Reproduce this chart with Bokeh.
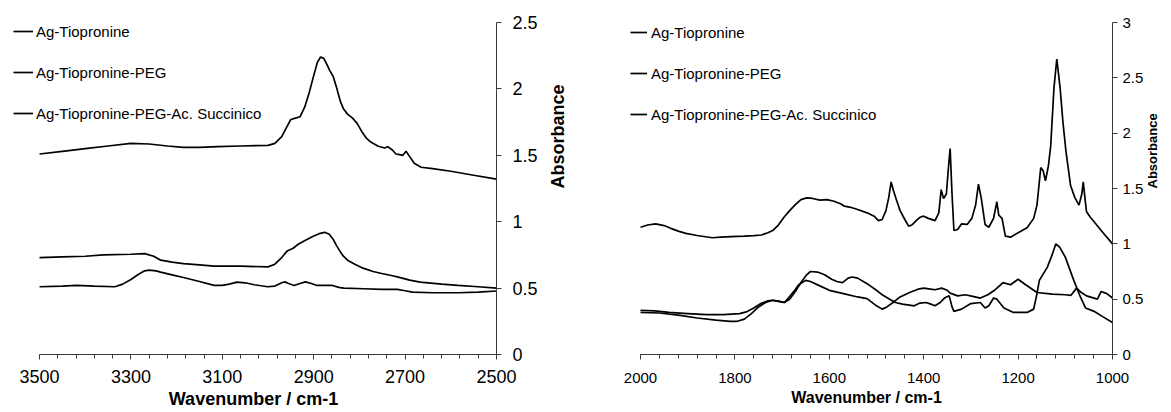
import math
from bokeh.plotting import figure
from bokeh.models import Range1d, FixedTicker, NumeralTickFormatter, Legend, LegendItem
from bokeh.layouts import row
from bokeh.embed import file_html
from bokeh.resources import INLINE

FONT = "Liberation Sans"

series_labels = ["Ag-Tiopronine", "Ag-Tiopronine-PEG", "Ag-Tiopronine-PEG-Ac. Succinico"]

# ---------------- Left panel: 3500-2500 cm-1 ----------------
left_tiop_wn = [3500, 3450, 3419, 3380, 3335, 3318, 3300, 3285, 3270, 3260, 3245, 3235, 3210, 3185, 3150,
                3118, 3100, 3085, 3068, 3050, 3030, 3001, 2985, 2970, 2963, 2955, 2943, 2930, 2918, 2905,
                2893, 2870, 2859, 2845, 2834, 2790, 2751, 2717, 2700, 2684, 2640, 2584, 2540, 2500]
left_tiop_abs = [0.51, 0.515, 0.52, 0.515, 0.51, 0.53, 0.565, 0.60, 0.63, 0.636, 0.63, 0.62, 0.60, 0.58, 0.55,
                 0.52, 0.52, 0.53, 0.545, 0.54, 0.525, 0.51, 0.515, 0.54, 0.547, 0.535, 0.52, 0.535, 0.547, 0.535,
                 0.52, 0.52, 0.52, 0.505, 0.50, 0.495, 0.49, 0.49, 0.48, 0.47, 0.465, 0.465, 0.47, 0.478]

left_peg_wn = [3500, 3450, 3400, 3350, 3300, 3260, 3220, 3185, 3150, 3110, 3060, 3000, 2985, 2970, 2958,
               2950, 2940, 2930, 2920, 2910, 2900, 2892, 2885, 2878, 2872, 2865, 2857, 2850, 2842, 2835,
               2826, 2815, 2805, 2795, 2785, 2775, 2760, 2745, 2738, 2728, 2720, 2712, 2705, 2698, 2690,
               2680, 2665, 2640, 2600, 2550, 2500]
left_peg_abs = [1.51, 1.53, 1.55, 1.57, 1.59, 1.585, 1.57, 1.56, 1.56, 1.565, 1.57, 1.575, 1.59, 1.64, 1.72,
                1.77, 1.78, 1.79, 1.86, 1.97, 2.10, 2.20, 2.24, 2.23, 2.19, 2.14, 2.09, 2.01, 1.91, 1.85,
                1.81, 1.78, 1.74, 1.68, 1.63, 1.60, 1.57, 1.555, 1.565, 1.54, 1.51, 1.505, 1.50, 1.53, 1.49,
                1.44, 1.41, 1.40, 1.38, 1.35, 1.32]

left_succ_wn = [3500, 3450, 3400, 3360, 3300, 3270, 3250, 3235, 3210, 3185, 3150, 3118, 3060, 3000, 2985,
                2970, 2958, 2945, 2934, 2918, 2901, 2888, 2876, 2866, 2858, 2850, 2843, 2835, 2826, 2810,
                2792, 2770, 2751, 2730, 2717, 2690, 2667, 2620, 2584, 2540, 2500]
left_succ_abs = [0.73, 0.735, 0.74, 0.75, 0.755, 0.76, 0.74, 0.71, 0.695, 0.685, 0.675, 0.665, 0.665, 0.66, 0.68,
                 0.73, 0.78, 0.80, 0.83, 0.86, 0.89, 0.91, 0.92, 0.905, 0.87, 0.82, 0.78, 0.74, 0.71, 0.68,
                 0.65, 0.625, 0.61, 0.595, 0.585, 0.56, 0.545, 0.53, 0.52, 0.51, 0.50]

left_xticks = [2500, 2700, 2900, 3100, 3300, 3500]
left_yticks = [0, 0.5, 1, 1.5, 2, 2.5]

# ---------------- Right panel: 2000-1000 cm-1 ----------------
right_tiop_wn = [2000, 1960, 1920, 1880, 1840, 1810, 1795, 1780, 1765, 1750, 1735, 1720, 1705, 1695, 1685,
                 1675, 1665, 1650, 1640, 1620, 1600, 1570, 1540, 1520, 1500, 1488, 1478, 1465, 1450, 1430,
                 1412, 1400, 1385, 1376, 1362, 1350, 1344, 1328, 1312, 1296, 1280, 1264, 1250, 1232, 1216,
                 1200, 1184, 1160, 1128, 1100, 1088, 1076, 1066, 1055, 1032, 1024, 1012, 1000]
right_tiop_abs = [0.38, 0.375, 0.355, 0.33, 0.31, 0.30, 0.30, 0.32, 0.37, 0.43, 0.47, 0.49, 0.48, 0.47, 0.52,
                  0.57, 0.63, 0.67, 0.66, 0.62, 0.58, 0.55, 0.52, 0.505, 0.44, 0.41, 0.43, 0.47, 0.52, 0.56,
                  0.59, 0.60, 0.59, 0.585, 0.60, 0.58, 0.555, 0.53, 0.54, 0.525, 0.51, 0.54, 0.58, 0.65, 0.63,
                  0.68, 0.63, 0.56, 0.545, 0.54, 0.535, 0.60, 0.56, 0.53, 0.50, 0.57, 0.55, 0.51]

right_peg_wn = [2000, 1985, 1968, 1950, 1936, 1920, 1904, 1880, 1848, 1830, 1808, 1780, 1760, 1744, 1730,
                1720, 1708, 1696, 1684, 1672, 1660, 1648, 1635, 1620, 1605, 1590, 1575, 1568, 1555, 1540,
                1520, 1505, 1496, 1488, 1480, 1474, 1469, 1464, 1458, 1450, 1440, 1432, 1425, 1416, 1408,
                1400, 1390, 1376, 1368, 1363, 1358, 1352, 1347, 1344, 1340, 1336, 1328, 1320, 1308, 1298,
                1290, 1284, 1278, 1270, 1262, 1252, 1245, 1241, 1234, 1227, 1216, 1200, 1181, 1167, 1160,
                1152, 1147, 1142, 1136, 1131, 1124, 1118, 1111, 1105, 1099, 1089, 1080, 1071, 1065, 1062,
                1058, 1055, 1047, 1039, 1020, 1000]
right_peg_abs = [1.15, 1.17, 1.18, 1.165, 1.14, 1.115, 1.095, 1.075, 1.055, 1.06, 1.065, 1.07, 1.075, 1.08, 1.10,
                 1.12, 1.17, 1.24, 1.30, 1.355, 1.40, 1.415, 1.41, 1.395, 1.40, 1.385, 1.36, 1.34, 1.33, 1.31,
                 1.28, 1.25, 1.21, 1.22, 1.30, 1.42, 1.56, 1.48, 1.40, 1.30, 1.22, 1.16, 1.17, 1.21, 1.24,
                 1.25, 1.23, 1.21, 1.28, 1.49, 1.41, 1.45, 1.72, 1.86, 1.45, 1.12, 1.13, 1.18, 1.175, 1.23,
                 1.35, 1.54, 1.41, 1.175, 1.15, 1.23, 1.38, 1.26, 1.23, 1.07, 1.06, 1.10, 1.145, 1.23, 1.35,
                 1.69, 1.66, 1.57, 1.70, 1.88, 2.41, 2.67, 2.41, 2.10, 1.85, 1.53, 1.42, 1.35, 1.45, 1.56,
                 1.40, 1.29, 1.24, 1.20, 1.10, 1.00]

right_succ_wn = [2000, 1970, 1940, 1900, 1860, 1824, 1790, 1776, 1760, 1745, 1730, 1720, 1708, 1696, 1684,
                 1672, 1660, 1648, 1640, 1625, 1610, 1595, 1584, 1572, 1560, 1552, 1540, 1520, 1500, 1488,
                 1472, 1460, 1445, 1420, 1408, 1395, 1385, 1376, 1365, 1356, 1346, 1340, 1336, 1320, 1300,
                 1280, 1270, 1262, 1252, 1245, 1230, 1210, 1181, 1167, 1160, 1155, 1138, 1128, 1120, 1112,
                 1100, 1082, 1068, 1057, 1039, 1020, 1000]
right_succ_abs = [0.40, 0.395, 0.38, 0.37, 0.36, 0.36, 0.37, 0.385, 0.42, 0.46, 0.485, 0.49, 0.48, 0.47, 0.50,
                  0.57, 0.65, 0.72, 0.75, 0.745, 0.72, 0.68, 0.66, 0.65, 0.69, 0.70, 0.69, 0.64, 0.58, 0.54,
                  0.50, 0.47, 0.455, 0.44, 0.465, 0.47, 0.455, 0.44, 0.47, 0.51, 0.53, 0.43, 0.39, 0.41, 0.46,
                  0.47, 0.42, 0.44, 0.51, 0.50, 0.42, 0.38, 0.38, 0.41, 0.55, 0.67, 0.79, 0.90, 1.00, 0.97,
                  0.88, 0.67, 0.52, 0.42, 0.39, 0.34, 0.29]

right_xticks = [1000, 1200, 1400, 1600, 1800, 2000]
right_yticks = [0, 0.5, 1, 1.5, 2, 2.5, 3]


def make_panel(width, height, xr, yr, xbounds, xticks, yticks, borders,
               tick_fs, title_fs, ytitle_fs, series, legend_cfg, axis_cfg):
    p = figure(width=width, height=height, x_range=Range1d(*xr), y_range=Range1d(*yr),
               y_axis_location="right", toolbar_location=None, output_backend="svg",
               min_border_left=borders[0], min_border_right=borders[1],
               min_border_top=borders[2], min_border_bottom=borders[3])
    p.outline_line_color = None
    p.xgrid.visible = False
    p.ygrid.visible = False
    p.background_fill_color = "white"
    p.border_fill_color = "white"

    minors = list(range(int(xbounds[0]), int(xbounds[1]) + 1, 40))
    xa = p.xaxis[0]
    xa.ticker = FixedTicker(ticks=xticks, minor_ticks=minors)
    xa.bounds = xbounds
    xa.axis_label = "Wavenumber / cm-1"
    xa.axis_label_text_font = FONT
    xa.axis_label_text_font_style = "bold"
    xa.axis_label_text_font_size = title_fs
    xa.axis_label_text_color = "black"
    xa.axis_label_standoff = axis_cfg["xtitle_standoff"]
    xa.major_label_text_font = FONT
    xa.major_label_text_font_size = tick_fs
    xa.major_label_text_color = "black"
    xa.major_label_standoff = axis_cfg["xlabel_standoff"]

    ya = p.yaxis[0]
    ya.ticker = FixedTicker(ticks=yticks, minor_ticks=[])
    ya.formatter = NumeralTickFormatter(format="0.[0]")
    ya.axis_label = "Absorbance"
    ya.axis_label_orientation = math.pi / 2
    ya.axis_label_text_font = FONT
    ya.axis_label_text_font_style = "bold"
    ya.axis_label_text_font_size = ytitle_fs
    ya.axis_label_text_color = "black"
    ya.axis_label_standoff = axis_cfg["ytitle_standoff"]
    ya.major_label_text_font = FONT
    ya.major_label_text_font_size = tick_fs
    ya.major_label_text_color = "black"
    ya.major_label_standoff = axis_cfg["ylabel_standoff"]

    for ax in (xa, ya):
        ax.axis_line_color = "#3a3a3a"
        ax.axis_line_width = 1
        ax.major_tick_line_color = "#3a3a3a"
        ax.minor_tick_line_color = "#3a3a3a"
        ax.major_tick_in = 0
        ax.minor_tick_in = 0
        ax.major_tick_out = 5
        ax.minor_tick_out = 4

    renderers = {}
    for label, wn, ab in series:
        renderers[label] = p.line(wn, ab, line_color="black", line_width=1.7)
    items = [LegendItem(label=label, renderers=[renderers[label]]) for label in series_labels]

    leg = Legend(items=items, location=legend_cfg["loc"], orientation="vertical")
    leg.label_text_font = FONT
    leg.label_text_font_size = "15px"
    leg.label_text_color = "black"
    leg.glyph_width = legend_cfg["gw"]
    leg.glyph_height = 20
    leg.label_height = 20
    leg.spacing = 21
    leg.padding = 0
    leg.margin = 0
    leg.label_standoff = legend_cfg["standoff"]
    leg.border_line_color = None
    leg.background_fill_alpha = 0
    p.add_layout(leg, "center")
    return p


left_series = [
    ("Ag-Tiopronine", left_tiop_wn, left_tiop_abs),
    ("Ag-Tiopronine-PEG", left_peg_wn, left_peg_abs),
    ("Ag-Tiopronine-PEG-Ac. Succinico", left_succ_wn, left_succ_abs),
]
right_series = [
    ("Ag-Tiopronine", right_tiop_wn, right_tiop_abs),
    ("Ag-Tiopronine-PEG", right_peg_wn, right_peg_abs),
    ("Ag-Tiopronine-PEG-Ac. Succinico", right_succ_wn, right_succ_abs),
]

p1 = make_panel(580, 412, (3563.5, 2500), (0, 2.5), (2500, 3500),
                left_xticks, left_yticks, (10, 84, 22, 58), "18px", "18px", "18px", left_series,
                {"loc": (3, 231), "gw": 20, "standoff": 3},
                {"xtitle_standoff": 3, "xlabel_standoff": 10, "ytitle_standoff": 17, "ylabel_standoff": 11})
p2 = make_panel(591, 412, (2042.4, 1000), (0, 3), (1000, 2000),
                right_xticks, right_yticks, (40, 59, 22, 58), "15px", "16px", "13px", right_series,
                {"loc": (10, 230), "gw": 17, "standoff": 4},
                {"xtitle_standoff": 3, "xlabel_standoff": 13, "ytitle_standoff": 6, "ylabel_standoff": 5})

layout = row(p1, p2)
open("out.html", "w").write(file_html(layout, INLINE))
